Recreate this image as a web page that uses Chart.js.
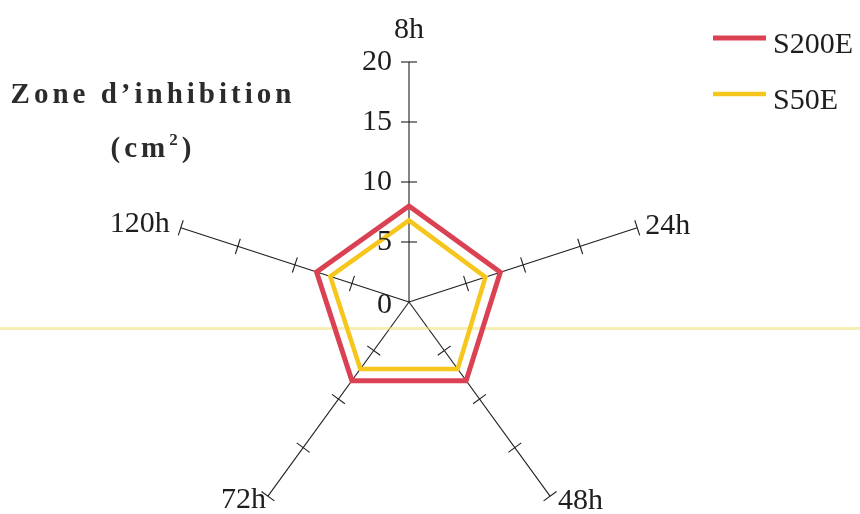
<!DOCTYPE html>
<html>
<head>
<meta charset="utf-8">
<script src="https://cdn.jsdelivr.net/npm/chart.js@4.4.1/dist/chart.umd.min.js"></script>
<style>
  html, body { margin: 0; padding: 0; background: #fff; }
  #wrap { position: relative; width: 860px; height: 514px; }
  #title {
    position: absolute; left: 8px; top: 66px; width: 290px;
    font: bold 29px "Liberation Serif", "DejaVu Serif", serif;
    letter-spacing: 4px; line-height: 54px; text-align: center;
    color: #2b2b2b; white-space: nowrap;
  }
  #title sup { font-size: 17px; line-height: 0; vertical-align: 12px; }
</style>
</head>
<body>
<div id="wrap">
  <canvas id="chart" width="860" height="514"></canvas>
  <div id="title">Zone d’inhibition<br>(cm<sup>2</sup>)</div>
</div>
<script>
const labels = ['8h', '24h', '48h', '72h', '120h'];
const s200e = [8, 8, 8.1, 8.1, 8.1];
const s50e = [6.8, 6.7, 6.9, 6.9, 6.9];
const tickValues = [0, 5, 10, 15, 20];

const serif = '"Liberation Serif", "DejaVu Serif", serif';
const ink = '#1e1e1e';

// where each axis name sits relative to the end of its axis
const labelPlace = [
  {align: 'center', base: 'alphabetic', dx: 0, dy: -24},
  {align: 'left', base: 'middle', dx: 8, dy: -2},
  {align: 'left', base: 'middle', dx: 8, dy: 5},
  {align: 'right', base: 'middle', dx: -2, dy: 4},
  {align: 'right', base: 'middle', dx: -11, dy: -4},
];

const decor = {
  id: 'decor',
  beforeDatasetsDraw(chart) {
    const ctx = chart.ctx;
    const r = chart.scales.r;
    ctx.save();
    // faint scanner streak
    ctx.fillStyle = 'rgba(238, 226, 120, 0.55)';
    ctx.fillRect(0, 327, chart.width, 3);

    // small cross ticks on every axis
    ctx.strokeStyle = ink;
    ctx.lineWidth = 1.1;
    labels.forEach((_, i) => {
      const a = r.getIndexAngle(i) - Math.PI / 2;
      const nx = -Math.sin(a), ny = Math.cos(a);
      tickValues.forEach(v => {
        if (v === 0) return;
        const p = r.getPointPositionForValue(i, v);
        ctx.beginPath();
        ctx.moveTo(p.x - nx * 8, p.y - ny * 8);
        ctx.lineTo(p.x + nx * 8, p.y + ny * 8);
        ctx.stroke();
      });
    });
    ctx.restore();
  },
  afterDraw(chart) {
    const ctx = chart.ctx;
    const r = chart.scales.r;
    ctx.save();
    ctx.fillStyle = ink;
    ctx.font = '30px ' + serif;

    // axis names
    labels.forEach((lab, i) => {
      const p = r.getPointPositionForValue(i, r.max);
      const pl = labelPlace[i];
      ctx.textAlign = pl.align;
      ctx.textBaseline = pl.base;
      ctx.fillText(lab, p.x + pl.dx, p.y + pl.dy);
    });

    // values along the first axis
    ctx.textAlign = 'right';
    ctx.textBaseline = 'middle';
    tickValues.forEach(v => {
      const p = r.getPointPositionForValue(0, v);
      ctx.fillText(String(v), p.x - 17, p.y + (v === 0 ? 3 : 0));
    });

    // legend, top right
    ctx.textAlign = 'left';
    ctx.textBaseline = 'alphabetic';
    chart.data.datasets.forEach((ds, k) => {
      const y = 38 + k * 56;
      ctx.strokeStyle = ds.borderColor;
      ctx.lineWidth = ds.borderWidth;
      ctx.beginPath();
      ctx.moveTo(713, y);
      ctx.lineTo(766, y);
      ctx.stroke();
      ctx.fillStyle = ink;
      ctx.fillText(ds.label, 773, y + 15);
    });
    ctx.restore();
  }
};

new Chart(document.getElementById('chart'), {
  type: 'radar',
  data: {
    labels: labels,
    datasets: [
      {
        label: 'S200E',
        data: s200e,
        borderColor: '#da4254',
        borderWidth: 5,
        backgroundColor: 'rgba(0,0,0,0)',
        fill: false,
        pointRadius: 0,
        borderJoinStyle: 'miter',
      },
      {
        label: 'S50E',
        data: s50e,
        borderColor: '#f6c61c',
        borderWidth: 4.5,
        backgroundColor: 'rgba(0,0,0,0)',
        fill: false,
        pointRadius: 0,
        borderJoinStyle: 'miter',
      },
    ]
  },
  options: {
    responsive: false,
    animation: false,
    plugins: {
      legend: { display: false },
      tooltip: { enabled: false },
    },
    scales: {
      r: {
        min: 0,
        max: 20,
        ticks: { display: false, stepSize: 5 },
        grid: { display: false },
        pointLabels: { display: false },
        angleLines: { display: true, color: ink, lineWidth: 1.1 },
        // pin the plot centre and radius to the original figure
        afterFit(scale) {
          scale.xCenter = 409;
          scale.yCenter = 302;
          scale.drawingArea = 240;
        }
      }
    }
  },
  plugins: [decor]
});
</script>
</body>
</html>
